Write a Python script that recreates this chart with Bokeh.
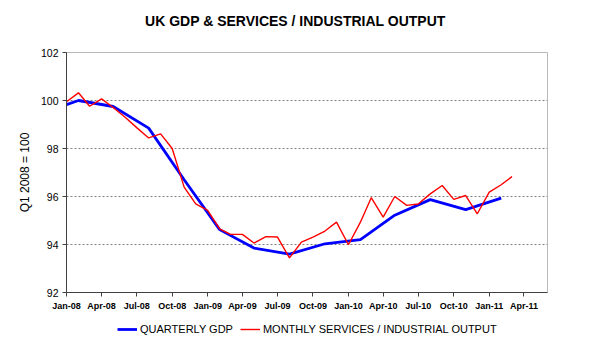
import pandas as pd
from bokeh.plotting import figure
from bokeh.layouts import column
from bokeh.core.properties import value
from bokeh.models import (ColumnDataSource, FixedTicker, DatetimeTickFormatter, Range1d,
                          Legend, LegendItem)
from bokeh.embed import file_html
from bokeh.resources import INLINE

# ---- data ----
gdp_dates = ["2008-01", "2008-02", "2008-05", "2008-08", "2008-11", "2009-02", "2009-05",
             "2009-08", "2009-11", "2010-02", "2010-05", "2010-08", "2010-11", "2011-02"]
gdp_values = [99.83, 100.0, 99.75, 98.85, 96.7, 94.62, 93.85,
              93.6, 94.03, 94.2, 95.22, 95.87, 95.45, 95.93]

output_start = "2008-01"
output_values = [99.95, 100.32, 99.76, 100.07, 99.71, 99.30, 98.87, 98.44, 98.61, 98.00,
                 96.39, 95.69, 95.42, 94.65, 94.42, 94.42, 94.06, 94.33, 94.31, 93.44,
                 94.10, 94.31, 94.56, 94.93, 93.99, 94.93, 95.95, 95.14, 96.00, 95.63,
                 95.69, 96.11, 96.46, 95.88, 96.04, 95.28, 96.18, 96.49, 96.83]

tick_dates = ["2008-01", "2008-04", "2008-07", "2008-10", "2009-01", "2009-04", "2009-07",
              "2009-10", "2010-01", "2010-04", "2010-07", "2010-10", "2011-01", "2011-04"]
y_ticks = [92, 94, 96, 98, 100, 102]
grid_ticks = [94, 96, 98, 100]

title_text = "UK GDP & SERVICES / INDUSTRIAL OUTPUT"
y_title = "Q1 2008 = 100"
gdp_name = "QUARTERLY GDP"
output_name = "MONTHLY SERVICES / INDUSTRIAL OUTPUT"

GDP_COLOR = "#0000ff"
OUT_COLOR = "#ff0000"
FONT = "Liberation Sans"

# ---- build ----
gdp_src = ColumnDataSource(dict(x=pd.to_datetime(gdp_dates), y=gdp_values))
out_src = ColumnDataSource(dict(
    x=pd.date_range(output_start + "-01", periods=len(output_values), freq="MS"),
    y=output_values))


def strip(height):
    f = figure(width=595, height=height, output_backend="svg", toolbar_location=None,
               x_range=Range1d(0, 1), y_range=Range1d(0, 1),
               x_axis_location=None, y_axis_location=None,
               min_border_left=0, min_border_right=0, min_border_top=0, min_border_bottom=0)
    f.outline_line_color = None
    f.grid.visible = False
    f.background_fill_color = "white"
    f.border_fill_color = "white"
    return f


# ---- title strip ----
tf = strip(30)
tf.text(x=[0.476], y=[0.333], text=[title_text], text_font=value(FONT),
        text_font_size="14px", text_font_style="bold", text_color="black",
        text_align="center", text_baseline="middle")

# ---- main chart ----
p = figure(width=595, height=286, x_axis_type="datetime",
           output_backend="svg", toolbar_location=None,
           x_range=Range1d(pd.Timestamp("2008-01-01"), pd.Timestamp("2011-06-01")),
           y_range=Range1d(92, 102),
           min_border_left=66, min_border_right=48, min_border_top=22, min_border_bottom=24)
p.background_fill_color = "white"
p.border_fill_color = "white"
p.outline_line_color = "#b8b8b8"
p.outline_line_width = 1

ms = [pd.Timestamp(d + "-01").value // 10**6 for d in tick_dates]
p.xaxis.ticker = FixedTicker(ticks=ms)
p.xaxis.formatter = DatetimeTickFormatter(days="%b-%y", months="%b-%y", years="%b-%y",
                                          context=None)
p.yaxis.ticker = FixedTicker(ticks=y_ticks)

for ax in (p.xaxis[0], p.yaxis[0]):
    ax.axis_line_color = "#404040"
    ax.major_tick_line_color = "#404040"
    ax.minor_tick_line_color = None
    ax.major_tick_in = 0
    ax.major_tick_out = 4
    ax.major_label_text_font = FONT
    ax.major_label_text_color = "black"

p.xaxis.major_label_text_font_size = "9px"
p.xaxis.major_label_text_font_style = "bold"
p.xaxis.major_label_standoff = 4
p.yaxis.major_label_text_font_size = "10.5px"
p.yaxis.major_label_standoff = 4
p.yaxis.axis_label = y_title
p.yaxis.axis_label_text_font = FONT
p.yaxis.axis_label_text_font_size = "12px"
p.yaxis.axis_label_text_font_style = "normal"
p.yaxis.axis_label_text_color = "black"
p.yaxis.axis_label_standoff = 6

p.xgrid.grid_line_color = None
p.ygrid.ticker = FixedTicker(ticks=grid_ticks)
p.ygrid.grid_line_color = "#808080"
p.ygrid.grid_line_dash = "2 2"
p.ygrid.grid_line_width = 1

p.line("x", "y", source=gdp_src, line_color=GDP_COLOR, line_width=2.8)
p.line("x", "y", source=out_src, line_color=OUT_COLOR, line_width=1.4)

# ---- legend strip below the chart (its keys reuse the series sources, kept out of view) ----
lf = strip(34)
k_gdp = lf.line("x", "y", source=gdp_src, line_color=GDP_COLOR, line_width=2.8)
k_out = lf.line("x", "y", source=out_src, line_color=OUT_COLOR, line_width=1.4)

legend = Legend(items=[LegendItem(label=gdp_name, renderers=[k_gdp]),
                       LegendItem(label=output_name, renderers=[k_out])],
                orientation="horizontal", location=(51, 15),
                label_text_font=FONT, label_text_font_size="11px",
                label_text_color="black",
                glyph_width=20, glyph_height=12, label_height=12,
                label_standoff=3, spacing=7, padding=2, margin=0,
                border_line_color=None, background_fill_alpha=0)
lf.add_layout(legend, "center")

layout = column(tf, p, lf, spacing=0)
open("out.html", "w").write(file_html(layout, INLINE))
